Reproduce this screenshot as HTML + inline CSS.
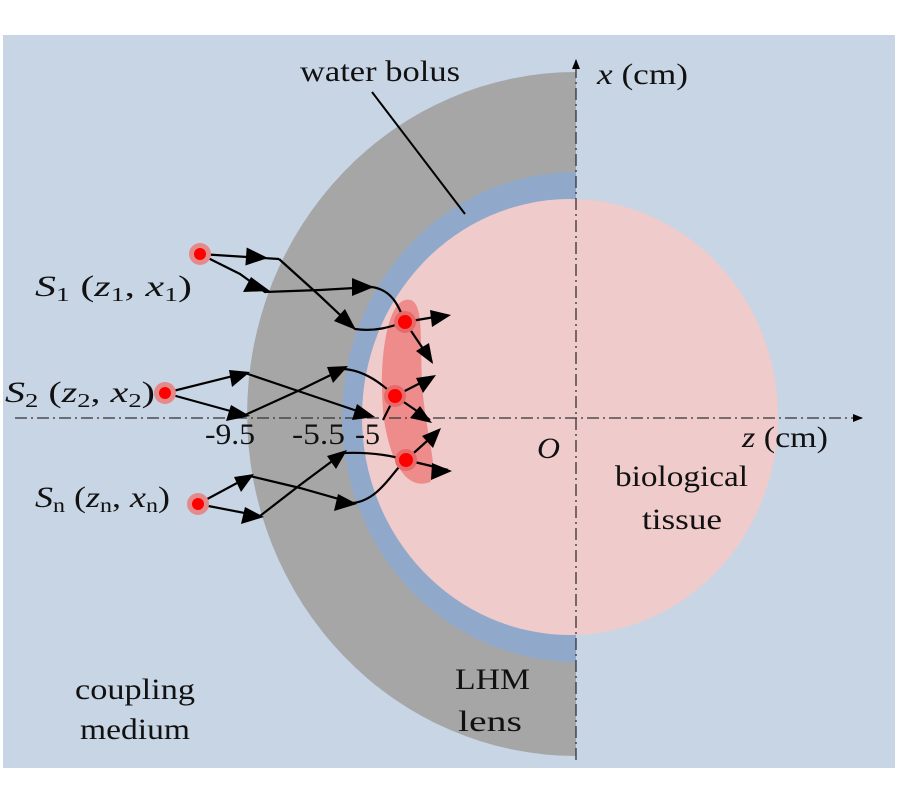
<!DOCTYPE html>
<html><head><style>body{margin:0;background:#fff}svg{display:block}text{font-family:"Liberation Serif",serif;font-size:30px;fill:#111}</style></head>
<body>
<svg width="900" height="800" viewBox="0 0 900 800">
<defs>
<marker id="ax" viewBox="0 0 10 10" refX="9" refY="5" markerWidth="10" markerHeight="10" orient="auto" markerUnits="userSpaceOnUse"><path d="M0,1 L10,5 L0,9 z" fill="#000"/></marker>
</defs>
<rect x="3" y="35" width="892" height="733" fill="#c8d5e5"/>
<path d="M576,72 A329,342 0 0 0 576,756 Z" fill="#a6a6a6"/>
<path d="M576,172 A234,245 0 0 0 576,662 Z" fill="#90a9cb"/>
<ellipse cx="570" cy="417" rx="208" ry="218" fill="#efcbcb"/>
<path d="M405,300 C424,296 420,330 422,380 C424,430 440,470 430,482 C410,490 392,470 384,420 C378,370 385,305 405,300 Z" fill="#ee8c8c"/>
<line x1="576" y1="760" x2="576" y2="60" stroke="#333" stroke-width="1.3" stroke-dasharray="12,4,2,4" marker-end="url(#ax)"/>
<line x1="15" y1="418" x2="862" y2="418" stroke="#333" stroke-width="1.3" stroke-dasharray="12,4,2,4" marker-end="url(#ax)"/>
<line x1="372" y1="92" x2="465" y2="214" stroke="#000" stroke-width="2"/>
<g fill="none" stroke="#000" stroke-width="2.2">
<path d="M200,254 L279,259"/>
<path d="M200,254 L240,274 L265,292 L320,290 L372,287 C392,290 398,305 405,322"/>
<path d="M279,259 L320,296 L355,329 C375,332 390,327 405,322"/>
<path d="M405,322 L447,315"/><path d="M405,322 L432,362"/>
<path d="M165,393 L245,373 L310,395 L372,416"/>
<path d="M165,393 L245,415 L300,390 L343,369 C365,370 383,385 395,396"/>
<path d="M395,396 L432,377"/><path d="M395,396 L430,420"/><path d="M395,396 L383,420"/>
<path d="M198,504 L250,476 L300,488 L353,503 C380,500 393,470 406,460"/>
<path d="M198,504 L260,516 L300,485 L343,453 C370,452 390,455 406,460"/>
<path d="M406,460 L437,432"/><path d="M406,460 L448,470"/>
</g>
<g fill="#000">
<path d="M268,258 l-22,-9 l0,18z" transform="rotate(4 268 258)"/>
<path d="M270,291 l-19,-14 l-8,15z"/>
<path d="M374,287 l-22,-9 l0,18z"/>
<path d="M356,330 l-11,-21 l-11,12z"/>
<path d="M451,315 l-21,-5 l2,17z"/>
<path d="M433,364 l-4,-21 l-13,8z"/>
<path d="M250,372 l-21,-2 l3,17z"/>
<path d="M250,416 l-19,-11 l-5,16z"/>
<path d="M375,417 l-18,-13 l-5,16z"/>
<path d="M348,366 l-21,1 l6,16z"/>
<path d="M436,375 l-20,3 l7,15z"/>
<path d="M432,423 l-12,-17 l-10,12z"/>
<path d="M254,474 l-20,3 l7,15z"/>
<path d="M264,517 l-19,-10 l-4,17z"/>
<path d="M357,504 l-19,-10 l-4,17z"/>
<path d="M347,450 l-20,6 l9,13z"/>
<path d="M441,428 l-19,8 l11,12z"/>
<path d="M452,471 l-20,-8 l-1,17z"/>
</g>
<g>
<circle cx="200" cy="254" r="11" fill="#e58a8a"/><circle cx="200" cy="254" r="6" fill="#f00"/>
<circle cx="165" cy="393" r="11" fill="#e58a8a"/><circle cx="165" cy="393" r="6" fill="#f00"/>
<circle cx="198" cy="504" r="11" fill="#e58a8a"/><circle cx="198" cy="504" r="6" fill="#f00"/>
<circle cx="405" cy="322" r="11" fill="#e76a6a"/><circle cx="405" cy="322" r="7" fill="#f00"/>
<circle cx="395" cy="396" r="11" fill="#e76a6a"/><circle cx="395" cy="396" r="7" fill="#f00"/>
<circle cx="406" cy="460" r="11" fill="#e76a6a"/><circle cx="406" cy="460" r="7" fill="#f00"/>
</g>
<text x="35" y="296" textLength="157" lengthAdjust="spacingAndGlyphs"><tspan font-style="italic">S</tspan><tspan font-size="20" dy="5">1</tspan><tspan dy="-5"> (</tspan><tspan font-style="italic">z</tspan><tspan font-size="20" dy="5">1</tspan><tspan dy="-5">, </tspan><tspan font-style="italic">x</tspan><tspan font-size="20" dy="5">1</tspan><tspan dy="-5">)</tspan></text>
<text x="5" y="402" textLength="150" lengthAdjust="spacingAndGlyphs"><tspan font-style="italic">S</tspan><tspan font-size="20" dy="5">2</tspan><tspan dy="-5"> (</tspan><tspan font-style="italic">z</tspan><tspan font-size="20" dy="5">2</tspan><tspan dy="-5">, </tspan><tspan font-style="italic">x</tspan><tspan font-size="20" dy="5">2</tspan><tspan dy="-5">)</tspan></text>
<text x="35" y="507" textLength="135" lengthAdjust="spacingAndGlyphs"><tspan font-style="italic">S</tspan><tspan font-size="20" dy="5">n</tspan><tspan dy="-5"> (</tspan><tspan font-style="italic">z</tspan><tspan font-size="20" dy="5">n</tspan><tspan dy="-5">, </tspan><tspan font-style="italic">x</tspan><tspan font-size="20" dy="5">n</tspan><tspan dy="-5">)</tspan></text>
<text x="205" y="444" textLength="50" lengthAdjust="spacingAndGlyphs">-9.5</text>
<text x="292" y="444" textLength="53" lengthAdjust="spacingAndGlyphs">-5.5</text>
<text x="355" y="444" textLength="25" lengthAdjust="spacingAndGlyphs">-5</text>
<text x="537" y="458" font-style="italic" textLength="23" lengthAdjust="spacingAndGlyphs">O</text>
<text x="742" y="447" textLength="86" lengthAdjust="spacingAndGlyphs"><tspan font-style="italic">z</tspan> (cm)</text>
<text x="597" y="84" textLength="91" lengthAdjust="spacingAndGlyphs"><tspan font-style="italic">x</tspan> (cm)</text>
<text x="300" y="81" textLength="160" lengthAdjust="spacingAndGlyphs">water bolus</text>
<text x="615" y="486" textLength="133" lengthAdjust="spacingAndGlyphs">biological</text>
<text x="642" y="529" textLength="80" lengthAdjust="spacingAndGlyphs">tissue</text>
<text x="455" y="689" textLength="75" lengthAdjust="spacingAndGlyphs">LHM</text>
<text x="458" y="731" textLength="64" lengthAdjust="spacingAndGlyphs">lens</text>
<text x="75" y="699" textLength="120" lengthAdjust="spacingAndGlyphs">coupling</text>
<text x="80" y="739" textLength="110" lengthAdjust="spacingAndGlyphs">medium</text>
</svg>
</body></html>
